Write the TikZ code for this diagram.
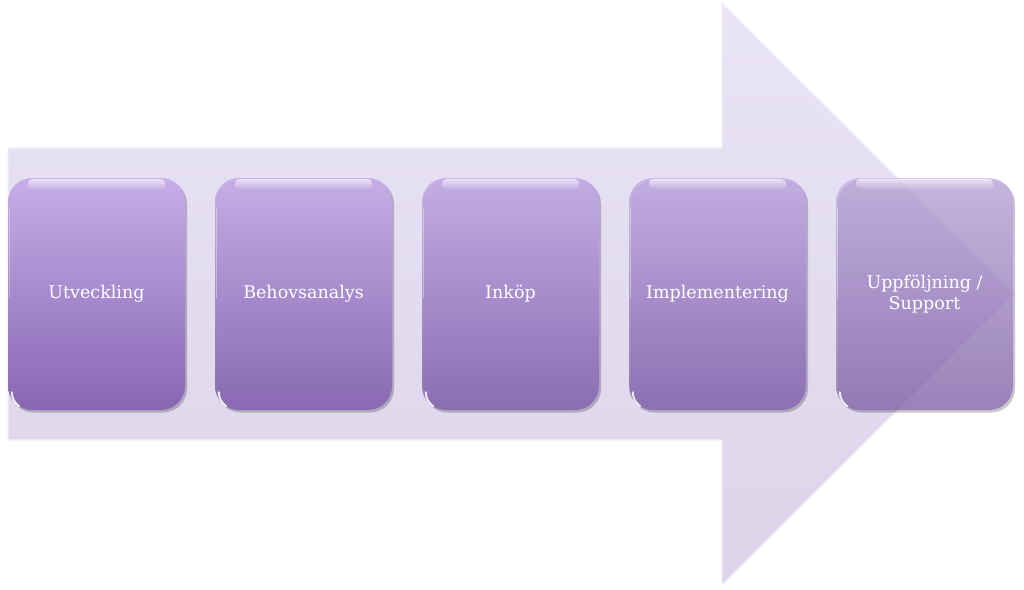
\documentclass[tikz,border=0pt]{standalone}
\usepackage{fontspec}
\setmainfont{DejaVu Serif}
\usetikzlibrary{fadings}
\tikzfading[name=glossfade, top color=transparent!0, bottom color=transparent!100]
\begin{document}
\begin{tikzpicture}[x=1pt,y=-1pt]
\definecolor{arrtop}{HTML}{E9E2F6}
\definecolor{arrbot}{HTML}{DAD2E8}
\definecolor{boxtop}{HTML}{C6AEE8}
\definecolor{boxbot}{HTML}{8766B3}
\tikzset{
  boxbody/.style={rounded corners=24pt, top color=boxtop, bottom color=boxbot},
  boxshadow/.style={rounded corners=24pt, fill=black, opacity=0.22},
  steplabel/.style={minimum width=177pt, minimum height=232pt, text=white,
    font=\fontsize{17.5}{21}\selectfont, align=center, inner sep=0pt},
  gloss/.style={white, path fading=glossfade, opacity=0.65, rounded corners=5pt},
  bigarrow/.style={top color=arrtop, bottom color=arrbot, draw=white!50!arrtop, line width=1.2pt, fill opacity=0.95}
}
\useasboundingbox (0,0) rectangle (1024,589);
% big arrow
\shade[bigarrow] (8,148) -- (722,148) -- (722,3) -- (1014,294) -- (722,585) -- (722,440) -- (8,440) -- cycle;
% step boxes: body, gloss and label
\foreach \cx/\op/\n/\txt in {96.5/1.0/b1/Utveckling, 303.5/0.95/b2/Behovsanalys, 510.5/0.9/b3/Inköp, 717.5/0.85/b4/Implementering, 924.5/0.7/b5/{Uppföljning /\\Support}} {
  \fill[boxshadow] (\cx+1.5,180) -- (\cx+90.5,180) -- (\cx+90.5,412.5) -- (\cx-87,412.5) -- (\cx-87,180) -- cycle;
  \shade[boxbody, fill opacity=\op] (\cx,178) -- (\cx+88.5,178) -- (\cx+88.5,410) -- (\cx-88.5,410) -- (\cx-88.5,178) -- cycle;
  \node[steplabel] (\n) at (\cx,294) {\txt};
  \fill[gloss] ([xshift=20pt,yshift=-1pt]\n.north west) rectangle ([xshift=-20pt,yshift=-12pt]\n.north east);
  \draw[white, opacity=0.35, line width=1.2pt] ([xshift=2pt,yshift=-30pt]\n.north west) -- ([xshift=2pt,yshift=-120pt]\n.north west);
  \draw[white, opacity=0.85, line width=2pt, line cap=round] ([xshift=4pt,yshift=18pt]\n.south west) arc[start angle=180, end angle=235, radius=17pt];
}
\end{tikzpicture}
\end{document}
